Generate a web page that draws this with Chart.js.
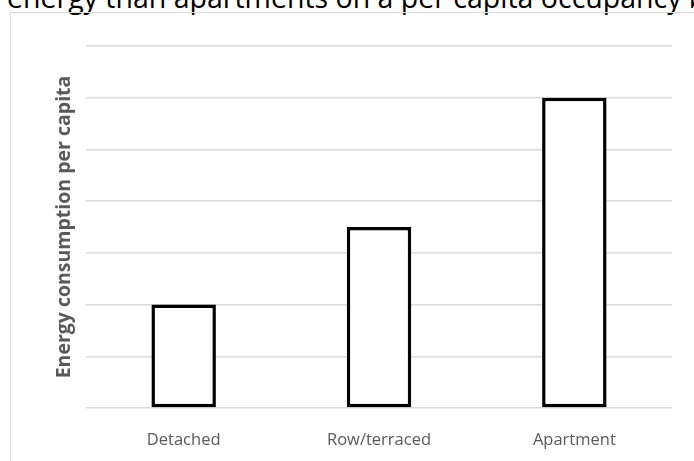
<!DOCTYPE html>
<html>
<head>
<meta charset="utf-8">
<script src="https://cdn.jsdelivr.net/npm/chart.js@4"></script>
<style>
  html, body { margin: 0; padding: 0; background: #fff; overflow: hidden; }
  #page { position: relative; width: 694px; height: 461px; overflow: hidden; }
  #caption {
    position: absolute; left: 7px; top: -23px; white-space: nowrap;
    font-family: "Open Sans", sans-serif; font-size: 28.5px; line-height: 40px; color: #000;
  }
  #frame {
    position: absolute; left: 10px; top: 12px; width: 720px; height: 480px;
    border: 1.5px solid #d9d9d9; box-sizing: border-box;
  }
  #wrap { position: absolute; left: 0; top: 0; width: 694px; height: 461px; }
</style>
</head>
<body>
<div id="page">
  <div id="caption">energy than apartments on a per capita occupancy basis</div>
  <div id="frame"></div>
  <div id="wrap"><canvas id="myChart"></canvas></div>
</div>
<script>
// dwelling types and relative energy use per person
const categories = ["Detached", "Row/terraced", "Apartment"];
const consumption = [2, 3.5, 6];
const yMax = 7;

document.addEventListener("DOMContentLoaded", function () {
  const ctx = document.getElementById("myChart").getContext("2d");
  new Chart(ctx, {
    type: "bar",
    data: {
      labels: categories,
      datasets: [
        {
          label: "Energy consumption per capita",
          data: consumption,
          backgroundColor: "#ffffff",
          borderColor: "#000000",
          borderWidth: 3.5,
          borderSkipped: false,
          categoryPercentage: 1,
          barPercentage: 0.33,
        },
      ],
    },
    options: {
      responsive: true,
      maintainAspectRatio: false,
      animation: false,
      layout: { padding: { top: 46, right: 22, left: 0, bottom: 0 } },
      plugins: {
        legend: { display: false },
        tooltip: { enabled: false },
      },
      scales: {
        x: {
          grid: { display: false, drawTicks: false },
          border: { display: false },
          ticks: {
            color: "#595959",
            font: { family: "'Open Sans', sans-serif", size: 16.5 },
            padding: 22,
          },
          afterFit: (scale) => { scale.height = 53; },
        },
        y: {
          min: 0,
          max: yMax,
          ticks: { display: false, stepSize: 1 },
          grid: { color: "#d9d9d9", lineWidth: 1.5, drawTicks: false },
          border: { display: false },
          title: {
            display: true,
            text: "Energy consumption per capita",
            color: "#595959",
            font: { family: "'Open Sans', sans-serif", size: 19.5, weight: "bold" },
            padding: { top: 53, bottom: 0 },
          },
          afterFit: (scale) => { scale.width = 86; },
        },
      },
    },
  });
});
</script>
</body>
</html>
